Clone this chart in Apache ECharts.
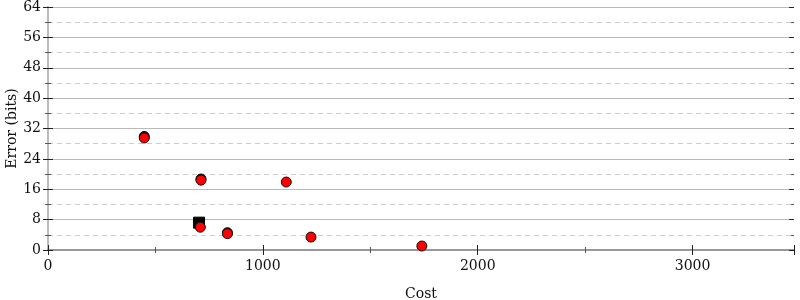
<!DOCTYPE html>
<html><head><meta charset="utf-8">
<script src="https://cdn.jsdelivr.net/npm/echarts@6/dist/echarts.min.js"></script>
<style>html,body{margin:0;padding:0;background:#fff}#c{width:800px;height:300px}</style>
</head><body><div id="c"></div>
<script>
const redCost = [448, 712, 1109, 709, 835, 1224, 1740];
const redErr = [29.5, 18.4, 17.9, 6.0, 4.3, 3.4, 1.05];
const blackCost = [448, 712, 835];
const blackErr = [29.9, 18.7, 4.55];
const squareCost = [703];
const squareErr = [7.2];
const xTicks = [0, 1000, 2000, 3000];
const yTicks = [0, 8, 16, 24, 32, 40, 48, 56, 64];

const font = 'DejaVu Serif';
const chart = echarts.init(document.getElementById('c'), null, {renderer: 'canvas'});
const zip = (a, b) => a.map((v, i) => [v, b[i]]);
const tickCol = '#222';
function yAx(pos, inside, labels, extra) {
  return Object.assign({
    type: 'value', position: pos, min: 0, max: 64, interval: 8,
    axisLine: {show: true, lineStyle: {color: '#bbb', width: 2}},
    axisTick: {show: true, inside: inside, length: 5, lineStyle: {color: tickCol, width: 1}},
    minorTick: {show: true, splitNumber: 2, length: 3, lineStyle: {color: '#555'}},
    axisLabel: {show: labels, fontFamily: font, fontSize: 14, color: '#111', margin: 7},
    splitLine: {show: false}, minorSplitLine: {show: false}
  }, extra || {});
}
chart.setOption({
  animation: false,
  grid: {left: 48, right: 6, top: 7, bottom: 50, containLabel: false, outerBoundsMode: 'none'},
  xAxis: [{
    type: 'value', position: 'bottom', min: 0, max: 3472, interval: 1000,
    name: 'Cost', nameLocation: 'middle', nameGap: 37, nameMoveOverlap: false,
    nameTextStyle: {fontFamily: font, fontSize: 14, color: '#111'},
    axisLine: {show: true, lineStyle: {color: '#999', width: 2}},
    axisTick: {show: true, inside: false, length: 5, lineStyle: {color: tickCol}},
    minorTick: {show: true, splitNumber: 2, length: 3, lineStyle: {color: '#555'}},
    axisLabel: {fontFamily: font, fontSize: 14, color: '#111', margin: 9, showMaxLabel: false,
      formatter: v => xTicks.includes(v) ? String(v) : ''},
    splitLine: {show: false}
  }, {
    type: 'value', position: 'bottom', min: 0, max: 3472, interval: 1000,
    axisLine: {show: false},
    axisTick: {show: true, inside: true, length: 5, lineStyle: {color: tickCol}},
    minorTick: {show: true, splitNumber: 2, length: 3, lineStyle: {color: '#555'}},
    axisLabel: {show: false}, splitLine: {show: false}
  }, {
    type: 'value', position: 'top', min: 0, max: 3472, interval: 1000,
    axisLine: {show: true, lineStyle: {color: '#999', width: 2}},
    axisTick: {show: false}, axisLabel: {show: false}, splitLine: {show: false}
  }],
  yAxis: [
    yAx('left', false, true, {
      name: 'Error (bits)', nameLocation: 'middle', nameGap: 29, nameMoveOverlap: false,
      nameTextStyle: {fontFamily: font, fontSize: 14, color: '#111'},
      axisLabel: {show: true, fontFamily: font, fontSize: 14, color: '#111', margin: 7,
        formatter: v => yTicks.includes(v) ? String(v) : ''},
      splitLine: {show: true, lineStyle: {color: '#bbb', width: 1, type: 'solid'}},
      minorSplitLine: {show: true, lineStyle: {color: '#ccc', width: 1, type: [5, 4]}}
    }),
    yAx('left', true, false, {axisLine: {show: false}}),
    yAx('right', false, false),
    yAx('right', true, false, {axisLine: {show: false}})
  ],
  series: [
    {type: 'scatter', xAxisIndex: 0, yAxisIndex: 0, data: zip(blackCost, blackErr), symbol: 'circle', symbolSize: 10,
      itemStyle: {color: '#111', borderColor: '#000', borderWidth: 1, opacity: 1}, z: 2},
    {type: 'scatter', xAxisIndex: 0, yAxisIndex: 0, data: zip(squareCost, squareErr), symbol: 'rect', symbolSize: 11,
      itemStyle: {color: '#000', borderColor: '#000', borderWidth: 1, opacity: 1}, z: 3},
    {type: 'scatter', xAxisIndex: 0, yAxisIndex: 0, data: zip(redCost, redErr), symbol: 'circle', symbolSize: 10,
      itemStyle: {color: '#ff0000', borderColor: '#111', borderWidth: 1, opacity: 1}, z: 4}
  ]
});
</script></body></html>
